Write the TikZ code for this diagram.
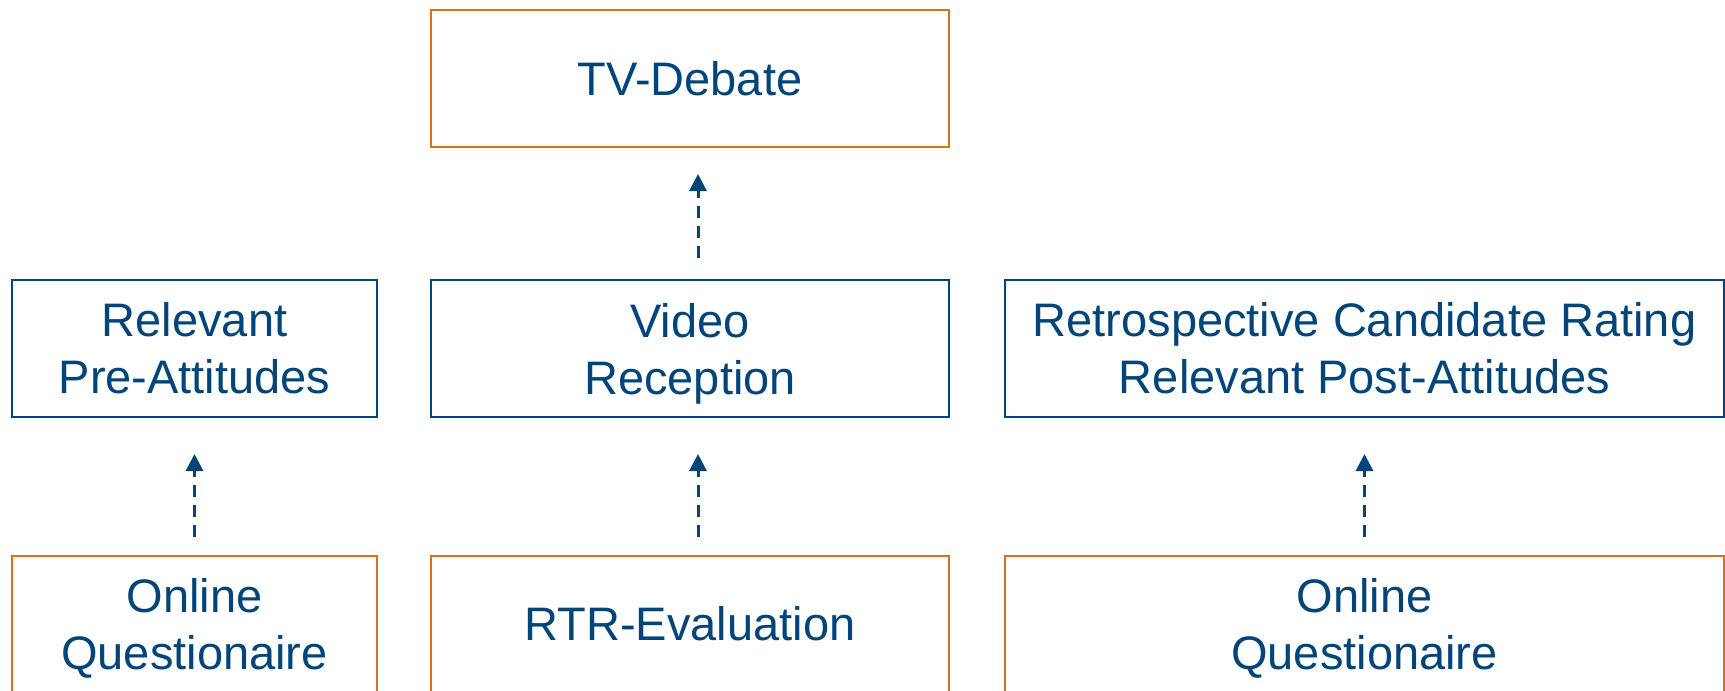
\documentclass[tikz,border=0pt]{standalone}
\usepackage{fontspec}
\setmainfont{Liberation Sans}
\usetikzlibrary{arrows.meta}
\definecolor{tblue}{HTML}{00457A}
\definecolor{torange}{HTML}{D8711C}
\newcommand\nodepth[1]{\raisebox{0pt}[\height][0pt]{#1}}
\begin{document}
\begin{tikzpicture}[x=1pt,y=-1pt,
  boxbase/.style={rectangle, draw, line width=2pt, inner sep=0pt, align=center,
    text=tblue, font=\fontsize{47}{57}\selectfont, minimum height=137pt},
  bluebox/.style={boxbase, draw=tblue},
  orangebox/.style={boxbase, draw=torange},
  flow/.style={tblue, line width=3pt, dash pattern=on 12pt off 8pt,
    -{Triangle[length=17pt,width=17pt]}, shorten <=18pt, shorten >=36pt}]
\clip (0,0) rectangle (1725,691);
\fill[white] (0,0) rectangle (1725,691);
\node[orangebox, minimum width=518pt] (tv) at (690,78.5) {\raisebox{-1pt}{TV-Debate}};
\node[bluebox, minimum width=365pt] (pre) at (194.5,348.5) {Relevant\\Pre-Attitudes};
\node[bluebox, minimum width=518pt] (video) at (690,348.5) {Video\\\nodepth{Reception}};
\node[bluebox, minimum width=719pt] (post) at (1364.5,348.5) {Retrospective Candidate Rating\\Relevant Post-Attitudes};
\node[orangebox, minimum width=365pt] (oq1) at (194.5,624) {Online\\\nodepth{Questionaire}};
\node[orangebox, minimum width=518pt] (rtr) at (690,624) {\raisebox{-2pt}{RTR-Evaluation}};
\node[orangebox, minimum width=719pt] (oq2) at (1364.5,624) {Online\\\nodepth{Questionaire}};
\draw[flow] (oq1.north) -- (pre.south);
\draw[flow] ([xshift=8pt]rtr.north) -- ([xshift=8pt]video.south);
\draw[flow, shorten <=21pt, shorten >=26pt] ([xshift=8pt]video.north) -- ([xshift=8pt]tv.south);
\draw[flow] (oq2.north) -- (post.south);
\end{tikzpicture}
\end{document}
